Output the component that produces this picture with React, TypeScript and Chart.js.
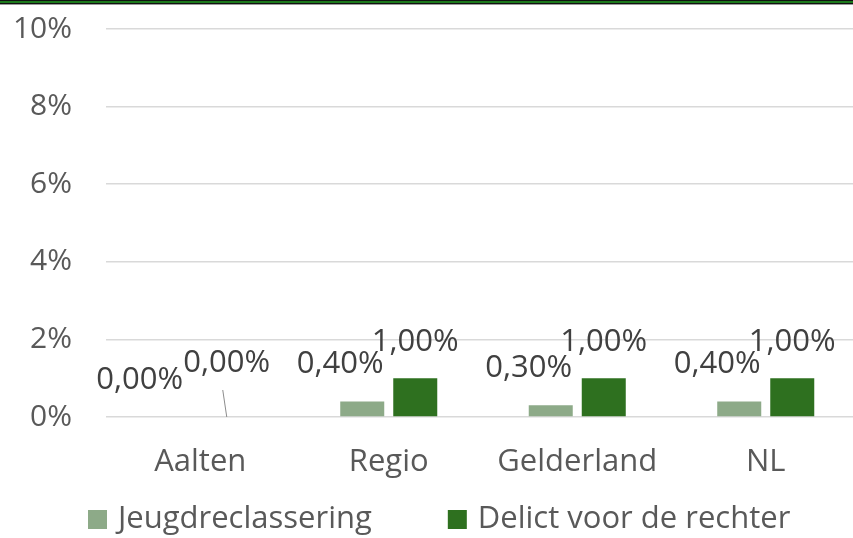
import React, { useEffect, useRef } from "react";
import { Chart, registerables } from "chart.js";

Chart.register(...registerables);

const categories = ["Aalten", "Regio", "Gelderland", "NL"];
const seriesNames = ["Jeugdreclassering", "Delict voor de rechter"];
const jeugdreclassering = [0.0, 0.4, 0.3, 0.4];
const delictVoorDeRechter = [0.0, 1.0, 1.0, 1.0];
const yTicks = [0, 2, 4, 6, 8, 10];

const LIGHT = "#8DAA88";
const DARK = "#2E701F";
const FONT = "'Open Sans', sans-serif";

const fmt = (v: number) => v.toFixed(2).replace(".", ",") + "%";

const labelsPlugin = {
  id: "customLabels",
  afterDatasetsDraw(chart: any) {
    const ctx = chart.ctx;
    ctx.save();
    ctx.font = `31px ${FONT}`;
    ctx.fillStyle = "#404040";
    ctx.textAlign = "center";
    ctx.textBaseline = "middle";
    chart.data.datasets.forEach((ds: any, di: number) => {
      const meta = chart.getDatasetMeta(di);
      meta.data.forEach((bar: any, i: number) => {
        const v = ds.data[i];
        let x = bar.x;
        let y = bar.y;
        if (di === 0) {
          x -= 22 + (v === 0 ? 12 : 0);
          y -= 37;
        } else {
          y -= 36 + (v === 0 ? 18 : 0);
          if (v === 0) {
            ctx.save();
            ctx.strokeStyle = "#8c8c8c";
            ctx.lineWidth = 1;
            ctx.beginPath();
            ctx.moveTo(bar.x - 4, bar.y - 27);
            ctx.lineTo(bar.x, bar.y);
            ctx.stroke();
            ctx.restore();
          }
        }
        ctx.fillText(fmt(v), x, y);
      });
    });
    ctx.restore();
  },
  afterDraw(chart: any) {
    const ctx = chart.ctx;
    ctx.save();
    ctx.font = `31px ${FONT}`;
    ctx.textBaseline = "middle";
    ctx.textAlign = "left";
    const cy = 519;
    let x = 88;
    chart.data.datasets.forEach((ds: any) => {
      ctx.fillStyle = ds.backgroundColor;
      ctx.fillRect(x, cy - 9, 19, 19);
      x += 19 + 11;
      ctx.fillStyle = "#595959";
      ctx.fillText(ds.label, x, cy);
      x += ctx.measureText(ds.label).width + 76;
    });
    ctx.restore();
  },
};

export default function App() {
  const ref = useRef<HTMLCanvasElement | null>(null);
  useEffect(() => {
    document.body.style.margin = "0";
    if (!ref.current) return;
    const chart = new Chart(ref.current, {
      type: "bar",
      data: {
        labels: categories,
        datasets: [
          { label: seriesNames[0], data: jeugdreclassering, backgroundColor: LIGHT },
          { label: seriesNames[1], data: delictVoorDeRechter, backgroundColor: DARK },
        ],
      },
      options: {
        responsive: false,
        animation: false,
        devicePixelRatio: 1,
        layout: { padding: { left: 13, right: 6, top: 29, bottom: 57 } },
        datasets: { bar: { categoryPercentage: 0.5625, barPercentage: 0.83 } },
        plugins: { legend: { display: false }, tooltip: { enabled: false } },
        scales: {
          x: {
            grid: { display: false, drawTicks: false },
            border: { display: false },
            ticks: { color: "#595959", font: { family: FONT, size: 31 }, padding: 27 },
            afterFit: (axis: any) => {
              axis.height = 64;
              axis.paddingLeft = 0;
              axis.paddingRight = 0;
            },
          },
          y: {
            min: 0,
            max: 10,
            afterBuildTicks: (axis: any) => {
              axis.ticks = yTicks.map((v) => ({ value: v }));
            },
            grid: { color: "#d9d9d9", lineWidth: 1.5, drawTicks: false },
            border: { display: false },
            ticks: {
              color: "#595959",
              font: { family: FONT, size: 30 },
              padding: 34,
              callback: (v: any) => v + "%",
            },
            afterFit: (axis: any) => {
              axis.width = 93;
              axis.paddingTop = 0;
              axis.paddingBottom = 0;
            },
          },
        },
      },
      plugins: [labelsPlugin],
    });
    return () => chart.destroy();
  }, []);
  return (
    <div style={{ position: "relative", width: 853, height: 538, overflow: "hidden", background: "#fff" }}>
      <canvas ref={ref} width={866} height={538} style={{ position: "absolute", left: 0, top: 0, width: 866, height: 538 }} />
      <div
        style={{
          position: "absolute",
          left: 0,
          top: 0,
          width: 853,
          height: 5,
          background: "linear-gradient(#111 0 1px, #1c7a1c 1px 3px, #111 3px 4px, #9a9a9a 4px 5px)",
        }}
      />
    </div>
  );
}
